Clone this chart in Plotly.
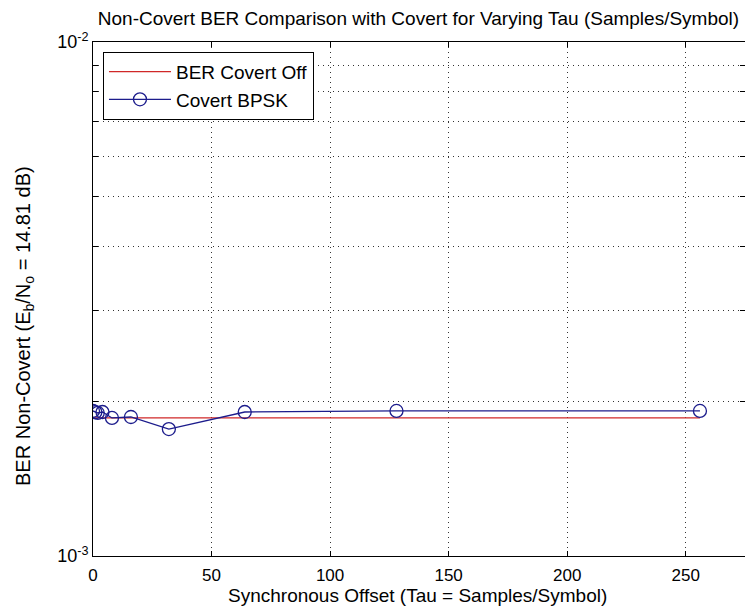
import plotly.graph_objects as go

tau = [0, 1, 2, 4, 8, 16, 32, 64, 128, 256]
ber_covert_bpsk = [1.915e-3, 1.905e-3, 1.898e-3, 1.906e-3, 1.856e-3, 1.864e-3, 1.766e-3, 1.906e-3, 1.915e-3, 1.915e-3]
ber_covert_off = [1.856e-3] * len(tau)

y_tickvals = [1e-3, 2e-3, 3e-3, 4e-3, 5e-3, 6e-3, 7e-3, 8e-3, 9e-3, 1e-2]
y_ticktext = ["10<sup>-3</sup>", "", "", "", "", "", "", "", "", "10<sup>-2</sup>"]
x_tickvals = [0, 50, 100, 150, 200, 250]

FONT = "Liberation Sans, Arial, sans-serif"

fig = go.Figure()
fig.add_trace(go.Scatter(
    x=tau, y=ber_covert_off, mode="lines", name="BER Covert Off",
    line=dict(color="#d02828", width=1.2),
))
fig.add_trace(go.Scatter(
    x=tau, y=ber_covert_bpsk, mode="lines+markers", name="Covert BPSK",
    line=dict(color="#1c1c8c", width=1.3),
    marker=dict(symbol="circle-open", size=13, color="#1c1c8c", line=dict(width=1.3)),
))

fig.update_layout(
    width=745, height=614,
    margin=dict(l=93, r=0, t=42, b=58),
    paper_bgcolor="white", plot_bgcolor="white",
    font=dict(family=FONT, size=19, color="black"),
    title=dict(
        text="Non-Covert BER Comparison with Covert for Varying Tau (Samples/Symbol)",
        x=0.5617, xanchor="center", y=0.970, yanchor="middle",
        font=dict(size=19),
    ),
    showlegend=True,
    legend=dict(
        x=0.0153, y=0.981, xanchor="left", yanchor="top",
        bgcolor="white", bordercolor="black", borderwidth=1,
        font=dict(size=19), tracegroupgap=0, itemwidth=62,
    ),
    annotations=[
        dict(
            text="BER Non-Covert (E<sub>b</sub>/N<sub>o</sub> = 14.81 dB)",
            xref="paper", yref="paper", x=-0.1043, y=0.4475,
            xanchor="center", yanchor="middle", textangle=-90,
            showarrow=False, font=dict(size=20),
        ),
        dict(
            text="Synchronous Offset (Tau = Samples/Symbol)",
            xref="paper", yref="paper", x=0.497, y=-0.0778,
            xanchor="center", yanchor="middle",
            showarrow=False, font=dict(size=19),
        ),
    ],
)

fig.update_xaxes(
    range=[0, 275], tickvals=x_tickvals,
    ticks="inside", ticklen=5, tickcolor="black",
    showline=True, linecolor="black", linewidth=1, mirror="ticks",
    showgrid=True, gridcolor="#333333", griddash="1px,4px", gridwidth=1,
    zeroline=False, ticklabelstandoff=4,
    tickfont=dict(size=17),
)
fig.update_yaxes(
    type="log", range=[-3, -2], tickvals=y_tickvals, ticktext=y_ticktext,
    ticks="inside", ticklen=5, tickcolor="black",
    showline=True, linecolor="black", linewidth=1, mirror="ticks",
    showgrid=True, gridcolor="#333333", griddash="1px,4px", gridwidth=1,
    zeroline=False,
    tickfont=dict(size=18),
)

fig.write_html("out.html")
